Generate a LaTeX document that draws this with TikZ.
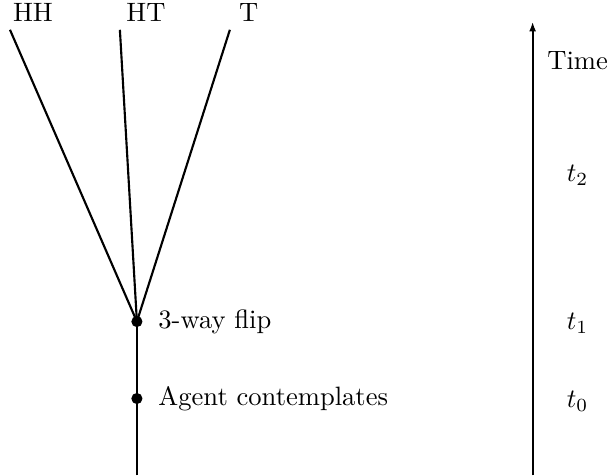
\documentclass[tikz,border=0pt]{standalone}
\usepackage{tikz}
\usetikzlibrary{positioning, arrows.meta}

\begin{document}
\begin{tikzpicture}[
  >={Latex[length=3.6pt, width=2.6pt]},
  event/.style={
    circle, fill=black, inner sep=0pt, minimum size=4.2pt
  },
  branch/.style={thick},
  outcome/.style={font=\normalsize, inner sep=2pt},
  stamp/.style={font=\normalsize},
]
\useasboundingbox (0,0) rectangle (8.03,6.29);

% Trunk with the two events
\coordinate (root) at (1.811,0);
\node[event] (agent) at (1.811,1.018) {};
\node[event] (flip) at (1.811,2.036) {};
\draw[branch] (root) -- (agent.center) -- (flip.center);

\node[right=0.08cm of agent] (agentlbl) {Agent contemplates};
\node[right=0.08cm of flip] (fliplbl) {3-way flip};

% Outcomes of the flip
\coordinate (hhend) at (0.132,5.896);
\coordinate (htend) at (1.586,5.896);
\coordinate (tend) at (3.041,5.896);
\draw[branch] (flip.center) -- (hhend);
\draw[branch] (flip.center) -- (htend);
\draw[branch] (flip.center) -- (tend);

\node[outcome] (hh) at (0.436,6.12) {HH};
\node[outcome] (ht) at (1.930,6.12) {HT};
\node[outcome] (t) at (3.290,6.12) {T};

% Time axis
\coordinate (tbottom) at (7.046,0);
\coordinate (ttop) at (7.046,6.002);
\draw[->, branch] (tbottom) -- (ttop);

\node[stamp] (time) at (7.641,5.486) {Time};
\node[stamp] (t2) at (7.641,3.966) {$t_2$};
\node[stamp] (t1) at (7.641,2.009) {$t_1$};
\node[stamp] (t0) at (7.641,0.978) {$t_0$};

\end{tikzpicture}
\end{document}
